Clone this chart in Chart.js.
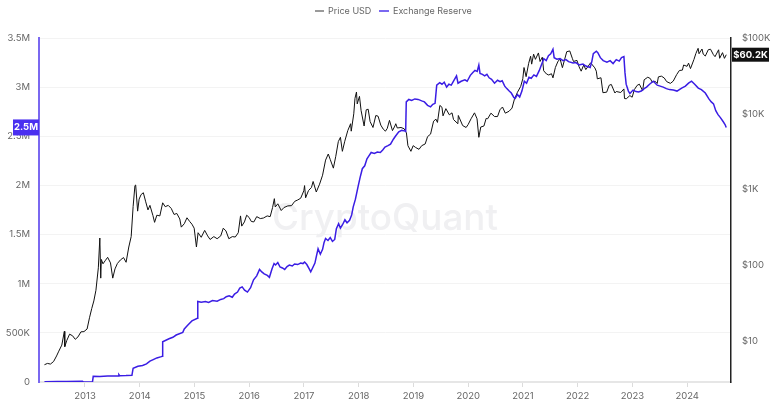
<!DOCTYPE html>
<html>
<head>
<meta charset="utf-8">
<script src="https://cdn.jsdelivr.net/npm/chart.js"></script>
<style>
  html, body { margin: 0; padding: 0; background: #fff; }
  #wrap { position: relative; width: 780px; height: 408px; }
</style>
</head>
<body>
<div id="wrap"><canvas id="reserveChart"></canvas></div>
<script>
// Price USD
var priceDates = [
  '2012-04-05','2012-04-25','2012-05-15','2012-06-05','2012-06-25','2012-07-10','2012-07-30','2012-08-16','2012-08-19','2012-09-01','2012-09-20','2012-10-10','2012-10-28','2012-11-15','2012-12-05','2012-12-25',
  '2013-01-15','2013-01-31','2013-02-15','2013-03-01','2013-03-15','2013-03-31','2013-04-10','2013-04-16','2013-04-20','2013-05-01','2013-05-15','2013-06-01','2013-06-20','2013-07-05','2013-07-20','2013-08-05','2013-08-25','2013-09-15','2013-10-02','2013-10-20','2013-11-05','2013-11-18','2013-11-30','2013-12-05','2013-12-18','2013-12-28',
  '2014-01-10','2014-01-25','2014-02-10','2014-02-25','2014-03-10','2014-03-30','2014-04-10','2014-04-25','2014-05-15','2014-06-03','2014-06-20','2014-07-10','2014-07-30','2014-08-18','2014-09-05','2014-09-25','2014-10-05','2014-10-25','2014-11-12','2014-11-30','2014-12-15','2014-12-30',
  '2015-01-14','2015-01-25','2015-02-15','2015-03-10','2015-03-30','2015-04-15','2015-05-10','2015-06-01','2015-06-25','2015-07-12','2015-07-30','2015-08-18','2015-09-10','2015-09-30','2015-10-20','2015-11-04','2015-11-12','2015-11-30','2015-12-15','2015-12-31',
  '2016-01-15','2016-02-01','2016-02-20','2016-03-15','2016-04-05','2016-04-30','2016-05-20','2016-06-05','2016-06-17','2016-06-23','2016-07-10','2016-08-02','2016-08-20','2016-09-15','2016-10-10','2016-10-31','2016-11-20','2016-12-10','2016-12-31',
  '2017-01-05','2017-01-12','2017-01-31','2017-02-20','2017-03-03','2017-03-24','2017-04-15','2017-05-05','2017-05-25','2017-06-12','2017-06-25','2017-07-16','2017-08-01','2017-08-18','2017-09-01','2017-09-14','2017-09-30','2017-10-20','2017-11-08','2017-11-12','2017-11-29','2017-12-07','2017-12-17','2017-12-22',
  '2018-01-06','2018-01-17','2018-02-06','2018-02-20','2018-03-05','2018-03-18','2018-04-06','2018-04-25','2018-05-10','2018-05-28','2018-06-13','2018-06-28','2018-07-10','2018-07-25','2018-08-14','2018-08-30','2018-09-05','2018-09-15','2018-10-10','2018-10-31','2018-11-15','2018-11-25','2018-12-15','2018-12-30',
  '2019-01-15','2019-02-07','2019-02-25','2019-03-20','2019-04-05','2019-04-25','2019-05-15','2019-05-31','2019-06-10','2019-06-26','2019-07-10','2019-07-17','2019-08-05','2019-08-28','2019-09-15','2019-09-25','2019-10-24','2019-10-27','2019-11-25','2019-12-18','2019-12-31',
  '2020-01-20','2020-02-12','2020-02-29','2020-03-12','2020-03-25','2020-04-15','2020-04-30','2020-05-10','2020-06-01','2020-06-25','2020-07-15','2020-07-31','2020-08-17','2020-09-05','2020-09-30','2020-10-20','2020-11-05','2020-11-25','2020-12-17','2020-12-31',
  '2021-01-08','2021-01-22','2021-02-08','2021-02-21','2021-02-28','2021-03-13','2021-03-25','2021-04-14','2021-04-25','2021-05-10','2021-05-19','2021-06-07','2021-06-22','2021-07-10','2021-07-20','2021-08-05','2021-08-23','2021-09-06','2021-09-21','2021-10-05','2021-10-20','2021-11-09','2021-11-26','2021-12-04','2021-12-27',
  '2022-01-10','2022-01-24','2022-02-10','2022-02-24','2022-03-28','2022-04-25','2022-05-05','2022-05-12','2022-06-05','2022-06-18','2022-07-13','2022-07-30','2022-08-13','2022-09-06','2022-09-15','2022-10-15','2022-11-05','2022-11-09','2022-11-21','2022-12-15','2022-12-30',
  '2023-01-14','2023-02-01','2023-02-16','2023-03-10','2023-03-20','2023-04-13','2023-04-30','2023-05-12','2023-06-01','2023-06-15','2023-06-23','2023-07-13','2023-08-01','2023-08-17','2023-09-11','2023-09-30','2023-10-23','2023-11-10','2023-11-30','2023-12-08','2023-12-31',
  '2024-01-10','2024-01-23','2024-02-15','2024-02-28','2024-03-14','2024-03-20','2024-04-09','2024-04-17','2024-05-01','2024-05-21','2024-06-05','2024-06-24','2024-07-05','2024-07-29','2024-08-05','2024-08-24','2024-09-06','2024-09-18'
];
var priceValues = [
  4.9,5.1,5.0,5.4,6.4,7.4,8.9,13.5,8.5,10.2,12.4,11.8,10.6,11.4,13.3,13.4,
  14.5,20.4,27,34,47,93,230,68,120,105,115,128,108,68,90,106,118,127,110,175,240,600,1130,1150,520,750,
  860,910,690,540,620,455,370,460,450,670,595,620,565,470,485,410,320,355,425,380,350,310,
  175,270,235,290,245,220,240,225,245,310,285,225,240,237,270,450,330,375,460,430,
  380,375,440,415,422,450,440,580,760,590,650,530,580,610,615,700,730,770,965,
  1130,780,970,1070,1280,930,1180,1550,2450,2950,2500,1920,2750,4300,4900,3200,4350,6000,7400,5900,10000,16000,19400,13500,
  17000,11000,6900,11300,11500,7900,6600,9500,9300,7100,6300,5900,6400,8200,6000,6900,7400,6500,6600,6350,5600,3800,3200,3800,
  3600,3400,3800,4000,5000,5400,8000,8500,7700,12900,12200,9400,11700,9700,10300,8400,7400,9500,7000,6600,7200,
  8600,10300,8600,4900,6700,6900,8700,8600,10200,9200,9200,11300,12300,10200,10800,11900,15600,19200,23000,29000,
  40800,30900,46300,57500,45200,61200,52300,63500,49000,55800,37000,33500,32500,33800,29800,40800,49500,52600,40600,51500,66000,67500,54000,49000,50700,
  41800,36500,44000,38300,47100,40400,36500,28900,29900,19000,19300,23800,24400,18800,19700,19100,21300,15900,15800,17400,16550,
  20900,23700,24600,20200,28100,30400,29200,26300,26900,25100,30700,31400,29700,26600,25200,27000,33000,37300,37700,44000,42300,
  46600,39500,52000,62500,73100,62000,71600,61300,57800,70100,71100,60300,56700,69900,54000,64100,53900,60200
];

// Exchange Reserve (BTC)
var reserveDates = [
  '2012-04-05','2012-07-01','2012-09-01','2012-12-15','2012-12-20','2013-02-20','2013-02-25','2013-04-10','2013-06-01','2013-08-10','2013-08-15','2013-08-20','2013-10-01','2013-11-10','2013-11-18','2013-12-20',
  '2014-01-20','2014-02-15','2014-03-10','2014-04-01','2014-04-25','2014-05-25','2014-06-01','2014-06-03','2014-07-15','2014-08-10','2014-09-01','2014-10-15','2014-10-25','2014-11-15','2014-12-15',
  '2015-01-20','2015-01-23','2015-02-15','2015-03-15','2015-04-05','2015-05-01','2015-06-01','2015-06-25','2015-07-15','2015-08-01','2015-08-20','2015-09-10','2015-09-25','2015-10-15','2015-10-30','2015-11-15','2015-12-01','2015-12-20',
  '2016-01-10','2016-01-30','2016-02-20','2016-03-10','2016-03-25','2016-04-10','2016-05-01','2016-05-15','2016-06-01','2016-06-15','2016-06-25','2016-07-10','2016-07-25','2016-08-10','2016-08-25','2016-09-10','2016-09-25','2016-10-15','2016-10-30','2016-11-20','2016-12-10','2016-12-25',
  '2017-01-05','2017-01-20','2017-02-05','2017-02-15','2017-03-01','2017-03-15','2017-03-25','2017-04-05','2017-04-20','2017-05-05','2017-05-15','2017-05-25','2017-06-10','2017-06-25','2017-07-10','2017-07-25','2017-08-05','2017-08-20','2017-09-01','2017-09-15','2017-10-01','2017-10-15','2017-11-01','2017-11-15','2017-11-25','2017-12-10','2017-12-28',
  '2018-01-10','2018-01-25','2018-02-10','2018-02-25','2018-03-10','2018-03-25','2018-04-15','2018-05-05','2018-05-25','2018-06-10','2018-06-25','2018-07-15','2018-08-01','2018-08-20','2018-09-05','2018-09-25','2018-10-15','2018-11-01','2018-11-10','2018-11-14','2018-12-01','2018-12-20',
  '2019-01-10','2019-02-01','2019-02-25','2019-03-15','2019-04-05','2019-04-25','2019-05-10','2019-05-25','2019-06-05','2019-06-25','2019-07-10','2019-07-25','2019-08-10','2019-08-25','2019-09-10','2019-09-25','2019-10-15','2019-10-25','2019-11-15','2019-12-10','2019-12-25',
  '2020-01-15','2020-02-01','2020-02-15','2020-03-01','2020-03-12','2020-03-20','2020-04-05','2020-04-20','2020-05-05','2020-05-20','2020-06-05','2020-06-25','2020-07-15','2020-08-01','2020-08-15','2020-09-01','2020-09-15','2020-10-01','2020-10-15','2020-11-01','2020-11-10','2020-11-25','2020-12-10','2020-12-25',
  '2021-01-10','2021-01-25','2021-02-10','2021-02-25','2021-03-15','2021-04-01','2021-04-20','2021-05-05','2021-05-20','2021-06-05','2021-06-20','2021-07-05','2021-07-20','2021-07-28','2021-08-15','2021-09-05','2021-09-25','2021-10-15','2021-11-01','2021-12-01','2021-12-20',
  '2022-01-10','2022-02-05','2022-02-25','2022-03-25','2022-04-05','2022-04-15','2022-05-05','2022-05-15','2022-06-01','2022-06-20','2022-07-15','2022-08-05','2022-08-25','2022-09-15','2022-10-05','2022-10-20','2022-11-05','2022-11-12','2022-11-20','2022-12-05','2022-12-15',
  '2023-01-05','2023-01-25','2023-02-10','2023-03-01','2023-03-20','2023-04-05','2023-04-25','2023-05-20','2023-06-15','2023-07-05','2023-07-25','2023-08-15','2023-09-05','2023-10-01','2023-10-25','2023-11-25','2023-12-20',
  '2024-01-10','2024-01-30','2024-02-20','2024-03-15','2024-04-05','2024-05-01','2024-05-25','2024-06-10','2024-06-25','2024-07-10','2024-07-25','2024-08-10','2024-08-28','2024-09-10','2024-09-18'
];
var reserveValues = [
  2000,4000,5000,8000,1000,1000,58000,57000,61000,62000,75000,64000,65000,68000,140000,160000,
  168000,185000,212000,228000,245000,258000,262000,410000,440000,455000,478000,505000,540000,575000,622000,
  648000,820000,812000,818000,810000,828000,822000,840000,848000,868000,878000,862000,895000,915000,955000,968000,935000,915000,
  960000,1040000,1080000,1145000,1120000,1100000,1085000,1065000,1150000,1205000,1190000,1215000,1170000,1160000,1145000,1175000,1190000,1180000,1200000,1195000,1210000,1205000,
  1220000,1195000,1150000,1120000,1165000,1210000,1280000,1355000,1300000,1350000,1420000,1460000,1440000,1470000,1430000,1450000,1560000,1610000,1565000,1600000,1650000,1620000,1645000,1700000,1780000,1860000,1990000,
  2080000,2170000,2200000,2270000,2300000,2335000,2325000,2340000,2335000,2360000,2390000,2405000,2420000,2470000,2505000,2545000,2560000,2555000,2550000,2850000,2875000,2865000,
  2880000,2875000,2860000,2850000,2815000,2800000,2825000,2835000,3020000,3045000,3030000,3050000,3000000,3030000,3020000,3060000,3115000,3040000,3060000,3075000,3060000,
  3120000,3150000,3170000,3160000,3225000,3140000,3130000,3115000,3130000,3095000,3080000,3040000,3070000,3055000,3065000,3010000,2985000,2960000,2940000,2895000,2885000,2925000,2900000,2960000,
  3060000,3040000,3100000,3090000,3125000,3110000,3170000,3230000,3290000,3270000,3320000,3340000,3385000,3300000,3285000,3290000,3270000,3280000,3260000,3245000,3250000,
  3225000,3235000,3215000,3200000,3260000,3340000,3365000,3350000,3300000,3270000,3255000,3270000,3240000,3280000,3265000,3300000,3310000,3150000,3030000,2960000,2935000,
  2970000,2955000,2950000,2960000,2985000,3000000,3030000,3060000,3020000,3010000,3000000,2985000,2975000,2970000,2960000,2990000,3010000,
  3040000,3060000,3030000,2990000,2975000,2940000,2880000,2850000,2830000,2760000,2720000,2690000,2650000,2620000,2590000
];

var yearTicks = [2013, 2014, 2015, 2016, 2017, 2018, 2019, 2020, 2021, 2022, 2023, 2024];
var reserveTickLabels = ['0', '500K', '1M', '1.5M', '2M', '2.5M', '3M', '3.5M'];
var priceTickLabels = { 10: '$10', 100: '$100', 1000: '$1K', 10000: '$10K', 100000: '$100K' };
var lastPriceLabel = '$60.2K';
var lastReserveLabel = '2.5M';

var BLUE = '#3a1de4';
var AXIS_BLUE = '#7a68f0';

function toYear(s) {
  var p = s.split('-');
  var y = +p[0];
  var t = Date.UTC(y, +p[1] - 1, +p[2]);
  var a = Date.UTC(y, 0, 1), b = Date.UTC(y + 1, 0, 1);
  return y + (t - a) / (b - a);
}

var priceData = priceDates.map(function(d, i) { return { x: toYear(d), y: priceValues[i] }; });
var reserveData = reserveDates.map(function(d, i) { return { x: toYear(d), y: reserveValues[i] }; });

// watermark + legend + last-value badges
var decorPlugin = {
  id: 'decor',
  beforeDatasetsDraw: function(chart) {
    var ctx = chart.ctx;
    ctx.save();
    var size = 40;
    ctx.font = '500 ' + size + 'px Inter, sans-serif';
    var w = ctx.measureText('CryptoQuant').width;
    size = size * 226 / w;
    ctx.font = '500 ' + size + 'px Inter, sans-serif';
    ctx.fillStyle = '#f0f0f2';
    ctx.textAlign = 'center';
    ctx.textBaseline = 'alphabetic';
    ctx.fillText('CryptoQuant', 385, 230);
    ctx.restore();
  },
  afterDraw: function(chart) {
    var ctx = chart.ctx;
    ctx.save();
    // legend
    ctx.font = '9px Inter, sans-serif';
    ctx.textBaseline = 'middle';
    ctx.textAlign = 'left';
    ctx.lineWidth = 2;
    ctx.strokeStyle = '#9a9a9a';
    ctx.beginPath(); ctx.moveTo(315, 11); ctx.lineTo(324, 11); ctx.stroke();
    ctx.fillStyle = '#666';
    ctx.fillText('Price USD', 328, 11);
    ctx.strokeStyle = AXIS_BLUE;
    ctx.beginPath(); ctx.moveTo(379, 11); ctx.lineTo(389, 11); ctx.stroke();
    ctx.fillStyle = '#666';
    ctx.fillText('Exchange Reserve', 393, 11);

    // last value badges
    var yR = chart.scales.price.getPixelForValue(priceValues[priceValues.length - 1]);
    ctx.fillStyle = '#111';
    ctx.fillRect(732, yR - 7, 37, 14);
    ctx.fillStyle = '#fff';
    ctx.font = 'bold 9.5px Inter, sans-serif';
    ctx.textAlign = 'center';
    ctx.fillText(lastPriceLabel, 750.5, yR);

    var yL = chart.scales.reserve.getPixelForValue(reserveValues[reserveValues.length - 1]);
    ctx.fillStyle = '#4a2ff0';
    ctx.fillRect(13, yL - 8, 26, 16);
    ctx.fillStyle = '#fff';
    ctx.fillText(lastReserveLabel, 26, yL);
    ctx.restore();
  }
};

var ctx = document.getElementById('reserveChart').getContext('2d');
new Chart(ctx, {
  type: 'line',
  data: {
    datasets: [
      {
        label: 'Price USD',
        data: priceData,
        yAxisID: 'price',
        borderColor: '#111',
        borderWidth: 1,
        pointRadius: 0,
        tension: 0,
        order: 1
      },
      {
        label: 'Exchange Reserve',
        data: reserveData,
        yAxisID: 'reserve',
        borderColor: BLUE,
        borderWidth: 1.5,
        pointRadius: 0,
        tension: 0,
        order: 0
      }
    ]
  },
  options: {
    responsive: true,
    maintainAspectRatio: false,
    animation: false,
    layout: { padding: { top: 38, left: 0, right: 0, bottom: 0 } },
    plugins: {
      legend: { display: false },
      tooltip: { enabled: false }
    },
    scales: {
      x: {
        type: 'linear',
        min: 2012.16,
        max: 2024.8,
        afterFit: function(s) { s.height = 26; },
        afterBuildTicks: function(s) { s.ticks = yearTicks.map(function(v) { return { value: v }; }); },
        grid: { drawOnChartArea: false, drawTicks: true, tickLength: 5, color: '#dcdcdc' },
        border: { color: '#e6e6e6', width: 2 },
        ticks: {
          color: '#666',
          font: { size: 9.5, family: 'Inter, sans-serif' },
          padding: 3,
          maxRotation: 0,
          autoSkip: false,
          callback: function(v) { return String(v); }
        }
      },
      reserve: {
        type: 'linear',
        position: 'left',
        min: 0,
        max: 3500000,
        afterFit: function(s) { s.width = 39; },
        afterBuildTicks: function(s) {
          s.ticks = reserveTickLabels.map(function(l, i) { return { value: i * 500000 }; });
        },
        grid: { color: '#f3f3f3', drawTicks: false },
        border: { color: AXIS_BLUE, width: 2 },
        ticks: {
          color: '#666',
          font: { size: 9.5, family: 'Inter, sans-serif' },
          padding: 9,
          callback: function(v, i) { return reserveTickLabels[i]; }
        }
      },
      price: {
        type: 'logarithmic',
        position: 'right',
        min: 2.9,
        max: 100000,
        afterFit: function(s) { s.width = 49; },
        afterBuildTicks: function(s) {
          s.ticks = [10, 100, 1000, 10000, 100000].map(function(v) { return { value: v }; });
        },
        grid: { drawOnChartArea: false, drawTicks: false },
        border: { color: '#222', width: 1.5 },
        ticks: {
          color: '#666',
          font: { size: 9.5, family: 'Inter, sans-serif' },
          padding: 11,
          autoSkip: false,
          callback: function(v) { return priceTickLabels[v] || ''; }
        }
      }
    }
  },
  plugins: [decorPlugin]
});
</script>
</body>
</html>
